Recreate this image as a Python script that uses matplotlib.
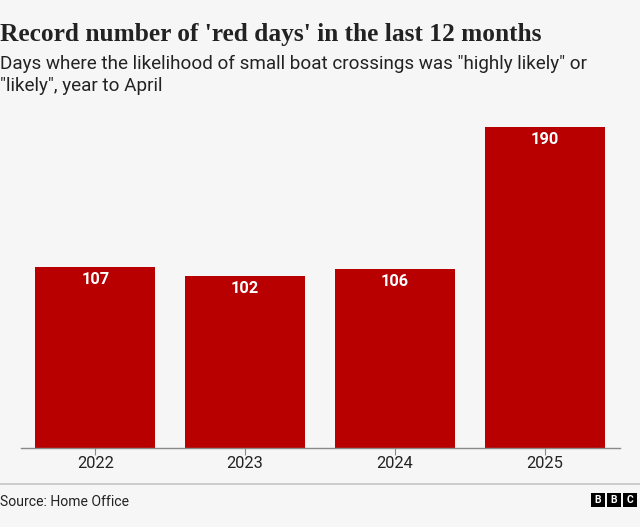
import matplotlib
matplotlib.use("Agg")
import matplotlib.pyplot as plt
from matplotlib.patches import Rectangle
from matplotlib.lines import Line2D

years = ["2022", "2023", "2024", "2025"]
red_days = [107, 102, 106, 190]
title = "Record number of 'red days' in the last 12 months"
subtitle_lines = ['Days where the likelihood of small boat crossings was "highly likely" or',
                  '"likely", year to April']
source = "Source: Home Office"
logo_letters = ["B", "B", "C"]

W, H = 640, 527
BG = "#f6f6f6"
INK = "#222222"
SANS = "Roboto"
def fx(p): return p / W
def fy(p): return 1 - p / H

fig = plt.figure(figsize=(W / 100, H / 100), dpi=100, facecolor=BG)
ax = fig.add_axes([fx(20.5), fy(448), fx(619.5) - fx(20.5), fy(127) - fy(448)], facecolor=BG)
x = list(range(len(years)))
ax.bar(x, red_days, width=0.8, color="#b80000")
ax.set_xlim(-0.5, 3.5)
ax.set_ylim(0, 190)
ax.set_xticks(x, years)
ax.set_yticks([])
for s in ["top", "left", "right"]:
    ax.spines[s].set_visible(False)
ax.spines["bottom"].set_color("#8a8a8a")
ax.spines["bottom"].set_linewidth(1.0)
ax.tick_params(axis="x", length=5, width=0.8, color="#8a8a8a", pad=0.5, labelsize=11.8, labelcolor=INK)
for lab in ax.get_xticklabels():
    lab.set_fontfamily(SANS)
for xi, v in zip(x, red_days):
    ax.annotate(str(v), (xi, v), xytext=(0, -9), textcoords="offset points", ha="center", va="center",
                color="white", fontsize=11.8, fontweight="bold", fontfamily=SANS)

fig.text(0, fy(41), title, fontfamily="Liberation Serif", fontweight="bold", fontsize=18.25, color=INK,
         ha="left", va="baseline")
for yb, line in zip([69, 91], subtitle_lines):
    fig.text(0, fy(yb), line, fontfamily=SANS, fontsize=13.55, color=INK, ha="left", va="baseline")

fig.add_artist(Line2D([0, 1], [fy(483.5)] * 2, color="#c8c8c8", lw=1.3))
fig.text(0, fy(506), source, fontfamily=SANS, fontsize=10.05, color=INK, ha="left", va="baseline")

for i, letter in enumerate(logo_letters):
    left = 590.5 + i * 16.3
    fig.add_artist(Rectangle((fx(left), fy(507)), fx(14), 14 / H, transform=fig.transFigure,
                             facecolor="black", edgecolor="none"))
    fig.text(fx(left + 7), fy(500), letter, color="white", fontsize=7.5, fontweight="bold",
             fontfamily=SANS, ha="center", va="center")

fig.savefig("out.png", dpi=100, facecolor=BG)
